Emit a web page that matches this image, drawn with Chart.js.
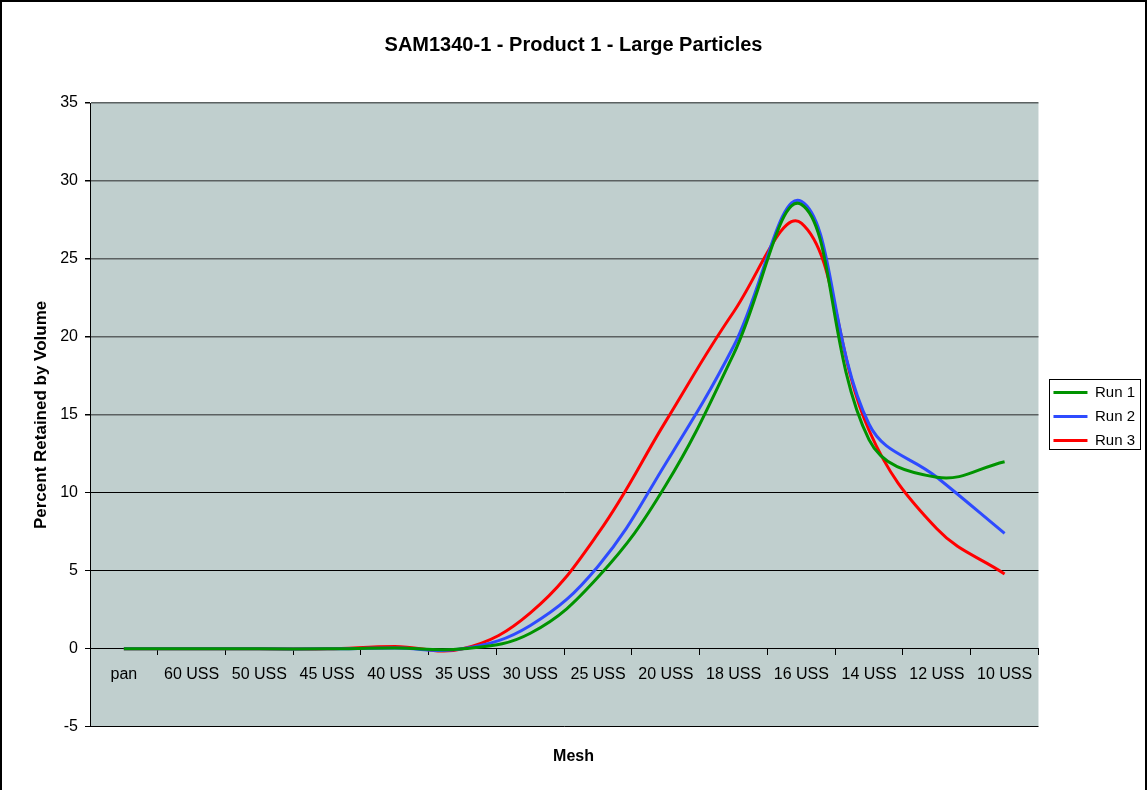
<!DOCTYPE html>
<html>
<head>
<meta charset="utf-8">
<title>SAM1340-1 - Product 1 - Large Particles</title>
<script src="https://cdn.jsdelivr.net/npm/chart.js@4.4.1/dist/chart.umd.min.js"></script>
<style>
    html, body { margin: 0; padding: 0; background: #fff; overflow: hidden; }
    .frame { position: absolute; left: 0; top: 0; width: 1147px; height: 800px; box-sizing: border-box; border: 2px solid #000; }
    .frame canvas { display: block; }
</style>
</head>
<body>
<div class="frame"><canvas id="meshChart" width="1143" height="788"></canvas></div>
<script>
// Sieve sizes (x categories)
const meshLabels = ['pan', '60 USS', '50 USS', '45 USS', '40 USS', '35 USS', '30 USS',
    '25 USS', '20 USS', '18 USS', '16 USS', '14 USS', '12 USS', '10 USS'];

// Percent retained by volume
const run1 = [0, 0, 0, 0, 0.05, 0, 1.0, 4.6, 10.5, 18.9, 28.5, 13.4, 11.0, 12.0];
const run2 = [0, 0, 0, 0, 0.05, 0, 1.5, 5.3, 11.9, 19.4, 28.7, 14.4, 11.0, 7.4];
const run3 = [0, 0, 0, 0, 0.15, 0, 2.3, 7.4, 14.6, 21.6, 27.3, 14.0, 7.7, 4.8];

const runNames = ['Run 1', 'Run 2', 'Run 3'];

// Y axis range
const yMin = -5;
const yMax = 35;
const yStep = 5;

Chart.defaults.font.family = "Arial, 'Liberation Sans', sans-serif";
Chart.defaults.color = '#000';

// grey plot area like the Excel default
const plotBackground = {
    id: 'plotBackground',
    beforeDraw(chart) {
        const { ctx, chartArea: a } = chart;
        ctx.save();
        ctx.fillStyle = '#c0cfce';
        ctx.fillRect(a.left, a.top, a.right - a.left, a.bottom - a.top);
        ctx.restore();
    }
};

// keep the legend centred on the plot and put a white framed box behind it
const legendFrame = {
    id: 'legendFrame',
    afterUpdate(chart) {
        const lg = chart.legend;
        const a = chart.chartArea;
        if (!lg || !a) return;
        const shift = (a.top + a.bottom) / 2 - (lg.top + lg.bottom) / 2 + 1.5;
        lg.top += shift;
        lg.bottom += shift;
        lg.legendHitBoxes.forEach(b => { b.top += shift; });
    },
    beforeDraw(chart) {
        const boxes = chart.legend && chart.legend.legendHitBoxes;
        if (!boxes || !boxes.length) return;
        const left = Math.min(...boxes.map(b => b.left)) - 4;
        const top = Math.min(...boxes.map(b => b.top)) - 6;
        const right = Math.max(...boxes.map(b => b.left + b.width)) + 5;
        const bottom = Math.max(...boxes.map(b => b.top + b.height)) + 1;
        const ctx = chart.ctx;
        ctx.save();
        ctx.fillStyle = '#fff';
        ctx.fillRect(left, top, right - left, bottom - top);
        ctx.strokeStyle = '#000';
        ctx.lineWidth = 1;
        ctx.strokeRect(Math.round(left) + 0.5, Math.round(top) + 0.5, Math.round(right - left), Math.round(bottom - top));
        ctx.restore();
    }
};

const lineSet = (label, data, color) => ({
    label: label,
    data: data,
    borderColor: color,
    backgroundColor: color,
    borderWidth: 3,
    pointRadius: 0,
    pointHoverRadius: 0,
    tension: 0.4,
    fill: false
});

const ctx = document.getElementById('meshChart').getContext('2d');

new Chart(ctx, {
    type: 'line',
    data: {
        labels: meshLabels,
        datasets: [
            lineSet(runNames[0], run1, '#009300'),
            lineSet(runNames[1], run2, '#2e4bff'),
            lineSet(runNames[2], run3, '#ff0000')
        ]
    },
    options: {
        responsive: false,
        animation: false,
        layout: { padding: { left: 0, top: 0, right: 0, bottom: 0 } },
        plugins: {
            title: {
                display: true,
                text: 'SAM1340-1 - Product 1 - Large Particles',
                font: { size: 20, weight: 'bold' },
                padding: { top: 31, bottom: 46 }
            },
            subtitle: {
                display: true,
                position: 'bottom',
                text: 'Mesh',
                font: { size: 16, weight: 'bold' },
                padding: { top: 20, bottom: 24 }
            },
            legend: {
                position: 'right',
                labels: {
                    usePointStyle: true,
                    pointStyle: 'line',
                    pointStyleWidth: 34,
                    padding: 9,
                    font: { size: 15 }
                }
            },
            tooltip: { enabled: false }
        },
        scales: {
            x: {
                type: 'category',
                position: { y: 0 },
                offset: true,
                grid: {
                    display: true,
                    offset: true,
                    drawOnChartArea: false,
                    drawTicks: true,
                    tickLength: 6,
                    tickColor: '#000'
                },
                border: { display: true, color: '#000', width: 1 },
                ticks: {
                    font: { size: 16 },
                    padding: 10,
                    maxRotation: 0,
                    autoSkip: false
                }
            },
            y: {
                min: yMin,
                max: yMax,
                ticks: {
                    stepSize: yStep,
                    font: { size: 16 },
                    padding: 7
                },
                grid: {
                    color: (c) => (c.tick && c.tick.value >= 15 ? '#5b6161' : '#000'),
                    lineWidth: (c) => (c.tick && c.tick.value >= 15 ? 1.5 : 1),
                    tickLength: 5,
                    tickColor: '#000'
                },
                border: { display: true, color: '#000', width: 1 },
                title: {
                    display: true,
                    text: 'Percent Retained by Volume',
                    font: { size: 17, weight: 'bold' },
                    padding: { top: 29, bottom: 0 }
                },
                afterFit: (scale) => { scale.width = 88; }
            },
            // empty spacer between plot and legend
            gap: {
                type: 'linear',
                position: 'right',
                display: true,
                grid: { display: false },
                ticks: { display: false },
                border: { display: false },
                afterFit: (scale) => { scale.width = 6; }
            }
        }
    },
    plugins: [plotBackground, legendFrame]
});
</script>
</body>
</html>
